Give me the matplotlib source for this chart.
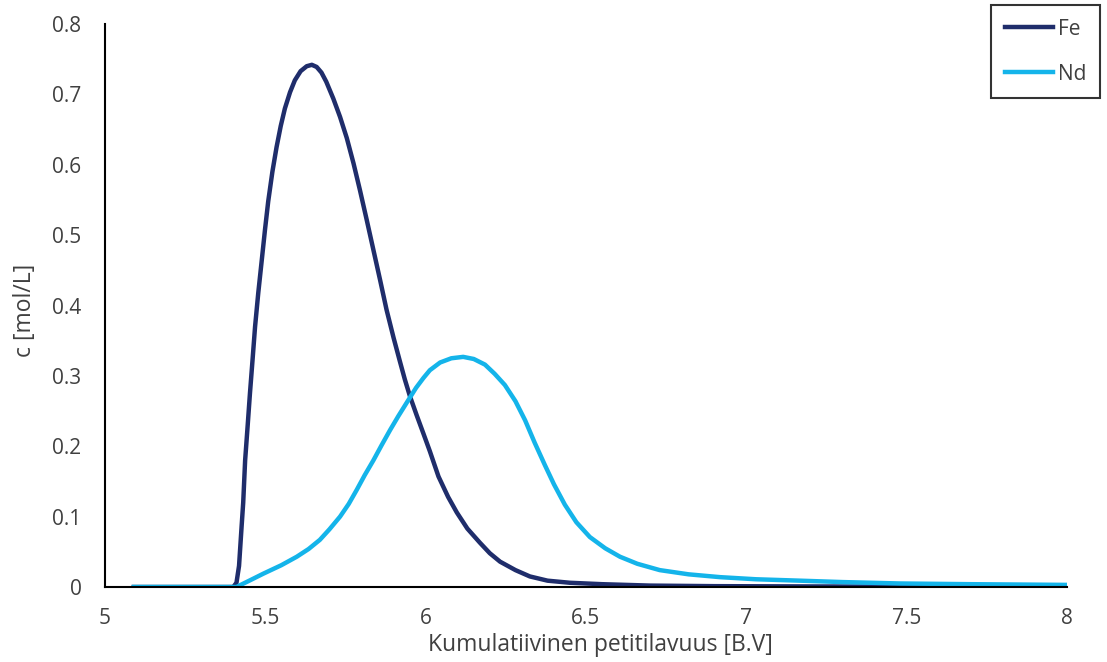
import matplotlib.pyplot as plt
from matplotlib.ticker import FuncFormatter

# cumulative bed volumes and concentrations (mol/L)
bv_fe = [5.09, 5.25, 5.40, 5.41, 5.418, 5.426, 5.431, 5.437, 5.445, 5.452, 5.46,
         5.468, 5.478, 5.489, 5.499, 5.509, 5.522, 5.535, 5.548, 5.561, 5.577,
         5.592, 5.61, 5.629, 5.645, 5.66, 5.675, 5.69, 5.712, 5.733, 5.754, 5.775,
         5.795, 5.816, 5.837, 5.858, 5.878, 5.90, 5.92, 5.935, 5.951, 5.972, 5.993,
         6.013, 6.04, 6.07, 6.097, 6.13, 6.169, 6.20, 6.232, 6.28, 6.325, 6.38,
         6.45, 6.55, 6.70, 6.90, 7.20, 7.60, 8.00]
c_fe = [0.0, 0.0, 0.0, 0.006, 0.03, 0.086, 0.12, 0.18, 0.23, 0.275, 0.322,
        0.37, 0.418, 0.465, 0.508, 0.548, 0.59, 0.625, 0.655, 0.68, 0.703,
        0.72, 0.733, 0.740, 0.742, 0.739, 0.731, 0.718, 0.694, 0.668, 0.638, 0.602,
        0.564, 0.522, 0.479, 0.436, 0.394, 0.354, 0.320, 0.295, 0.271, 0.244, 0.218,
        0.193, 0.157, 0.128, 0.106, 0.083, 0.063, 0.048, 0.036, 0.024, 0.015, 0.009,
        0.006, 0.004, 0.002, 0.0012, 0.0008, 0.0005, 0.0004]

bv_nd = [5.09, 5.25, 5.41, 5.45, 5.494, 5.55, 5.598, 5.635, 5.67, 5.70, 5.733,
         5.76, 5.785, 5.81, 5.837, 5.862, 5.889, 5.915, 5.941, 5.97, 5.993, 6.013,
         6.045, 6.08, 6.117, 6.15, 6.185, 6.215, 6.247, 6.28, 6.31, 6.34, 6.372,
         6.40, 6.434, 6.47, 6.512, 6.56, 6.606, 6.66, 6.73, 6.82, 6.918, 7.03,
         7.167, 7.30, 7.48, 7.70, 8.00]
c_nd = [0.0, 0.0, 0.0, 0.009, 0.019, 0.031, 0.043, 0.054, 0.067, 0.082, 0.10,
        0.118, 0.138, 0.159, 0.18, 0.201, 0.223, 0.243, 0.262, 0.283, 0.297, 0.308,
        0.319, 0.325, 0.327, 0.324, 0.316, 0.303, 0.287, 0.264, 0.237, 0.205, 0.173,
        0.146, 0.117, 0.092, 0.071, 0.055, 0.043, 0.033, 0.024, 0.018, 0.014, 0.011,
        0.009, 0.007, 0.005, 0.004, 0.003]

x_ticks = [5, 5.5, 6, 6.5, 7, 7.5, 8]
y_ticks = [0, 0.1, 0.2, 0.3, 0.4, 0.5, 0.6, 0.7, 0.8]

plt.rcParams['font.family'] = ['Open Sans', 'DejaVu Sans']
text_color = '#404040'

fig = plt.figure(figsize=(11.07, 6.62), dpi=100)
ax = fig.add_axes([105 / 1107, 75 / 662, 962 / 1107, 563 / 662])

ax.plot(bv_fe, c_fe, color='#1F2D6B', lw=3.2, label='Fe', solid_joinstyle='round')
ax.plot(bv_nd, c_nd, color='#14B4EA', lw=3.2, label='Nd', solid_joinstyle='round')

ax.set_xlim(5, 8)
ax.set_ylim(0, 0.8)
ax.set_xticks(x_ticks)
ax.set_yticks(y_ticks)
ax.xaxis.set_major_formatter(FuncFormatter(lambda v, p: f'{v:g}'))
ax.yaxis.set_major_formatter(FuncFormatter(lambda v, p: f'{v:g}'))
ax.tick_params(length=0, labelsize=15, labelcolor=text_color)
ax.tick_params(axis='y', pad=17)
ax.tick_params(axis='x', pad=15)

for side in ['top', 'right']:
    ax.spines[side].set_visible(False)
for side in ['left', 'bottom']:
    ax.spines[side].set_linewidth(1.5)
    ax.spines[side].set_color('black')

ax.set_xlabel('Kumulatiivinen petitilavuus [B.V]', fontsize=16.5, color=text_color)
ax.set_ylabel('c [mol/L]', fontsize=16.5, color=text_color)
ax.xaxis.set_label_coords(0.5146, -0.082)
ax.yaxis.set_label_coords(-0.071, 0.492)

leg = fig.legend(loc='upper right', bbox_to_anchor=(1100 / 1107, 1 - 5 / 662),
                 fontsize=15, frameon=True, fancybox=False, edgecolor='black',
                 handlelength=2.3, handletextpad=0.25, labelspacing=1.15,
                 borderpad=0.66, borderaxespad=0)
leg.get_frame().set_linewidth(1.5)
for t in leg.get_texts():
    t.set_color(text_color)

fig.savefig('out.png', dpi=100)
